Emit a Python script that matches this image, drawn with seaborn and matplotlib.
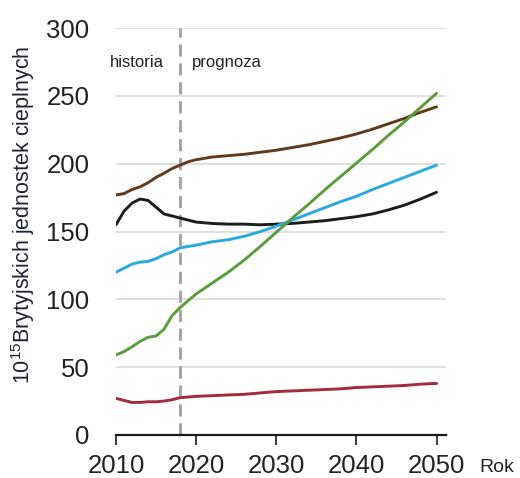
import numpy as np
import pandas as pd
import matplotlib
matplotlib.use('Agg')
import matplotlib.pyplot as plt
import seaborn as sns

# dane
years = [2010, 2011, 2012, 2013, 2014, 2015, 2016, 2017, 2018, 2019, 2020,
         2022, 2024, 2026, 2028, 2030, 2032, 2034, 2036, 2038, 2040,
         2042, 2044, 2046, 2048, 2050]
brown = [177, 178, 181, 183, 186, 190, 193, 196.5, 199, 201.5, 203,
         205, 206, 207, 208.5, 210, 212, 214, 216.5, 219, 222,
         225.5, 229.5, 233.5, 238, 242]
black = [155, 165, 171, 174, 173, 168, 163, 161.5, 160, 158.5, 157,
         156, 155.5, 155.5, 155, 155.5, 156, 157, 158, 159.5, 161,
         163, 166, 169.5, 174, 179]
blue = [120, 123, 126, 127.5, 128, 130, 133, 135, 138, 139, 140,
        142.5, 144, 146.5, 150, 154, 158.5, 163, 167.5, 172, 176,
        181, 185.5, 190, 194.5, 199]
green = [59, 61.5, 65, 69, 72, 73, 78, 88, 94, 99, 104,
         112, 120, 129, 139, 149.5, 160, 170, 180.5, 190.5, 200.5,
         210.5, 221, 231, 241.5, 252]
red = [27, 25.5, 24, 24, 24.5, 24.5, 25, 26, 27.5, 28, 28.5,
       29, 29.5, 30, 31, 32, 32.5, 33, 33.5, 34, 35,
       35.5, 36, 36.5, 37.5, 38]

series = {'brown': brown, 'black': black, 'blue': blue, 'green': green, 'red': red}
colors = {'brown': '#603a1a', 'black': '#1c1c1c', 'blue': '#2aa8e0',
          'green': '#5b9c3c', 'red': '#a42a40'}

df = pd.concat([pd.DataFrame({'Rok': years, 'val': v, 'seria': k}) for k, v in series.items()])

sns.set_theme(style='white')
plt.rcParams['font.family'] = ['Liberation Sans', 'DejaVu Sans']
plt.rcParams['mathtext.fontset'] = 'custom'
plt.rcParams['mathtext.rm'] = 'Liberation Sans'
plt.rcParams['mathtext.it'] = 'Liberation Sans'

fig = plt.figure(figsize=(5.2, 4.78), dpi=100)
ax = fig.add_axes([0.223, 0.090, 0.635, 0.851])

sns.lineplot(data=df, x='Rok', y='val', hue='seria', palette=colors, lw=2.1,
             legend=False, ax=ax)

ax.axvline(2018, color='#a6a6a6', lw=2.2, ls=(0, (4, 2.2)), zorder=1, clip_on=False)

ax.set_xlim(2010, 2051.2)
ax.set_ylim(0, 300)
ax.set_xticks([2010, 2020, 2030, 2040, 2050])
ax.set_yticks(range(0, 301, 50))
ax.yaxis.grid(True, color='#d9d9d9', lw=1.2)
ax.set_axisbelow(True)
for s in ['top', 'right', 'left']:
    ax.spines[s].set_visible(False)
ax.spines['bottom'].set_color('#1a1a1a')
ax.spines['bottom'].set_linewidth(1.6)
ax.tick_params(axis='x', bottom=True, length=7, width=1.2, color='#1a1a1a',
               pad=7, labelsize=18.5, labelcolor='#222222')
ax.tick_params(axis='y', left=False, pad=13, labelsize=18.5, labelcolor='#222222')
ax.set_xlabel('')
ax.set_ylabel('')

ax.text(2009.3, 275, 'historia', fontsize=12, color='#222222', ha='left', va='center')
ax.text(2019.5, 275, 'prognoza', fontsize=12, color='#222222', ha='left', va='center')

fig.text(0.045, 0.55, r'$10^{15}$Brytyjskich jednostek cieplnych', rotation=90,
         fontsize=15.5, color='#1f2433', ha='center', va='center')
fig.text(0.922, 0.023, 'Rok', fontsize=14, color='#222222', ha='left', va='center')

fig.savefig('out.png', dpi=100)
